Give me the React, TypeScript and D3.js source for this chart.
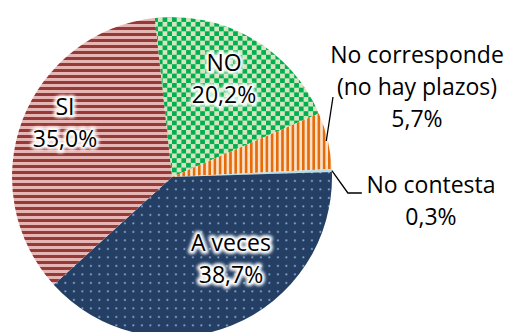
import React from "react";
import * as d3 from "d3";

const categories = ["NO", "No corresponde\n(no hay plazos)", "No contesta", "A veces", "SI"];
const values = [20.2, 5.7, 0.3, 38.7, 35.0];
const valueLabels = ["20,2%", "5,7%", "0,3%", "38,7%", "35,0%"];

const W = 506;
const H = 332;
const CX = 172;
const CY = 177;
const R = 160;
const START_DEG = -6.2;

const fills = ["url(#pNo)", "url(#pCorr)", "#b7dee8", "url(#pVeces)", "url(#pSi)"];

// label layout: [dx, dy] relative to pie center for the first line's baseline, inside flag
const labelLayout: { x: number; y: number; inside: boolean }[] = [
  { x: 52, y: -106, inside: true },
  { x: 245, y: -114, inside: false },
  { x: 259, y: 16, inside: false },
  { x: 59, y: 74, inside: true },
  { x: -107, y: -62, inside: true },
];
const LINE_H = 32;
const FS = 23;

export default function App() {
  const pie = d3
    .pie<number>()
    .sort(null)
    .startAngle((START_DEG * Math.PI) / 180)
    .endAngle((START_DEG * Math.PI) / 180 + 2 * Math.PI);
  const arcs = pie(values);
  const arc = d3.arc<d3.PieArcDatum<number>>().innerRadius(0).outerRadius(R);

  const pt = (a: number, r: number) => [Math.sin(a) * r, -Math.cos(a) * r];

  // leader for "No corresponde"
  const a1 = (arcs[1].startAngle + arcs[1].endAngle) / 2;
  const l1s = pt(a1, R * 0.99);
  const l1e = [labelLayout[1].x - 84, labelLayout[1].y + 34];
  // leader for "No contesta"
  const a2 = (arcs[2].startAngle + arcs[2].endAngle) / 2;
  const l2s = pt(a2, R);
  const l2m = [l2s[0] + 16, labelLayout[2].y];
  const l2e = [l2m[0] + 14, labelLayout[2].y];

  return (
    <svg
      width={W}
      height={H}
      style={{ position: "fixed", left: 0, top: 0, background: "#fff" }}
      fontFamily="'Open Sans', sans-serif"
    >
      <defs>
        <pattern id="pSi" patternUnits="userSpaceOnUse" width={6} height={6}>
          <rect width={6} height={6} fill="#e6b6b5" />
          <rect y={0} width={6} height={3} fill="#963a37" />
        </pattern>
        <pattern id="pNo" patternUnits="userSpaceOnUse" width={9.4} height={9.4}>
          <rect width={9.4} height={9.4} fill="#d6e4bf" />
          <rect width={4.7} height={4.7} fill="#00b050" />
          <rect x={4.7} y={4.7} width={4.7} height={4.7} fill="#00b050" />
        </pattern>
        <pattern id="pCorr" patternUnits="userSpaceOnUse" width={5.2} height={5.2}>
          <rect width={5.2} height={5.2} fill="#fde0c8" />
          <rect width={2.6} height={5.2} fill="#e46c0a" />
        </pattern>
        <pattern id="pVeces" patternUnits="userSpaceOnUse" width={8.5} height={8.5}>
          <rect width={8.5} height={8.5} fill="#243f63" />
          <rect x={3} y={3} width={1.8} height={1.8} fill="#88acd8" />
        </pattern>
        <filter id="glow" x="-20%" y="-40%" width="140%" height="180%">
          <feGaussianBlur stdDeviation={1.8} />
        </filter>
      </defs>
      <g transform={`translate(${CX},${CY})`}>
        {arcs.map((d, i) => (
          <path key={i} d={arc(d) || ""} fill={fills[i]} />
        ))}
        <line x1={l1s[0]} y1={l1s[1]} x2={l1e[0]} y2={l1e[1]} stroke="#000" strokeWidth={1.3} />
        <polyline
          points={[l2s, l2m, l2e].map((p) => p.join(",")).join(" ")}
          fill="none"
          stroke="#000"
          strokeWidth={1.3}
        />
        {categories.map((c, i) => {
          const L = labelLayout[i];
          const lines = [...c.split("\n"), valueLabels[i]];
          return (
            <g key={i}>
              {L.inside &&
                lines.map((t, j) => (
                  <text
                    key={"h" + j}
                    x={L.x}
                    y={L.y + j * LINE_H}
                    textAnchor="middle"
                    fontSize={FS}
                    fill="#fff"
                    stroke="#fff"
                    strokeWidth={6}
                    strokeLinejoin="round"
                    filter="url(#glow)"
                  >
                    {t}
                  </text>
                ))}
              {lines.map((t, j) => (
                <text
                  key={j}
                  x={L.x}
                  y={L.y + j * LINE_H}
                  textAnchor="middle"
                  fontSize={FS}
                  fill="#000"
                >
                  {t}
                </text>
              ))}
            </g>
          );
        })}
      </g>
    </svg>
  );
}
